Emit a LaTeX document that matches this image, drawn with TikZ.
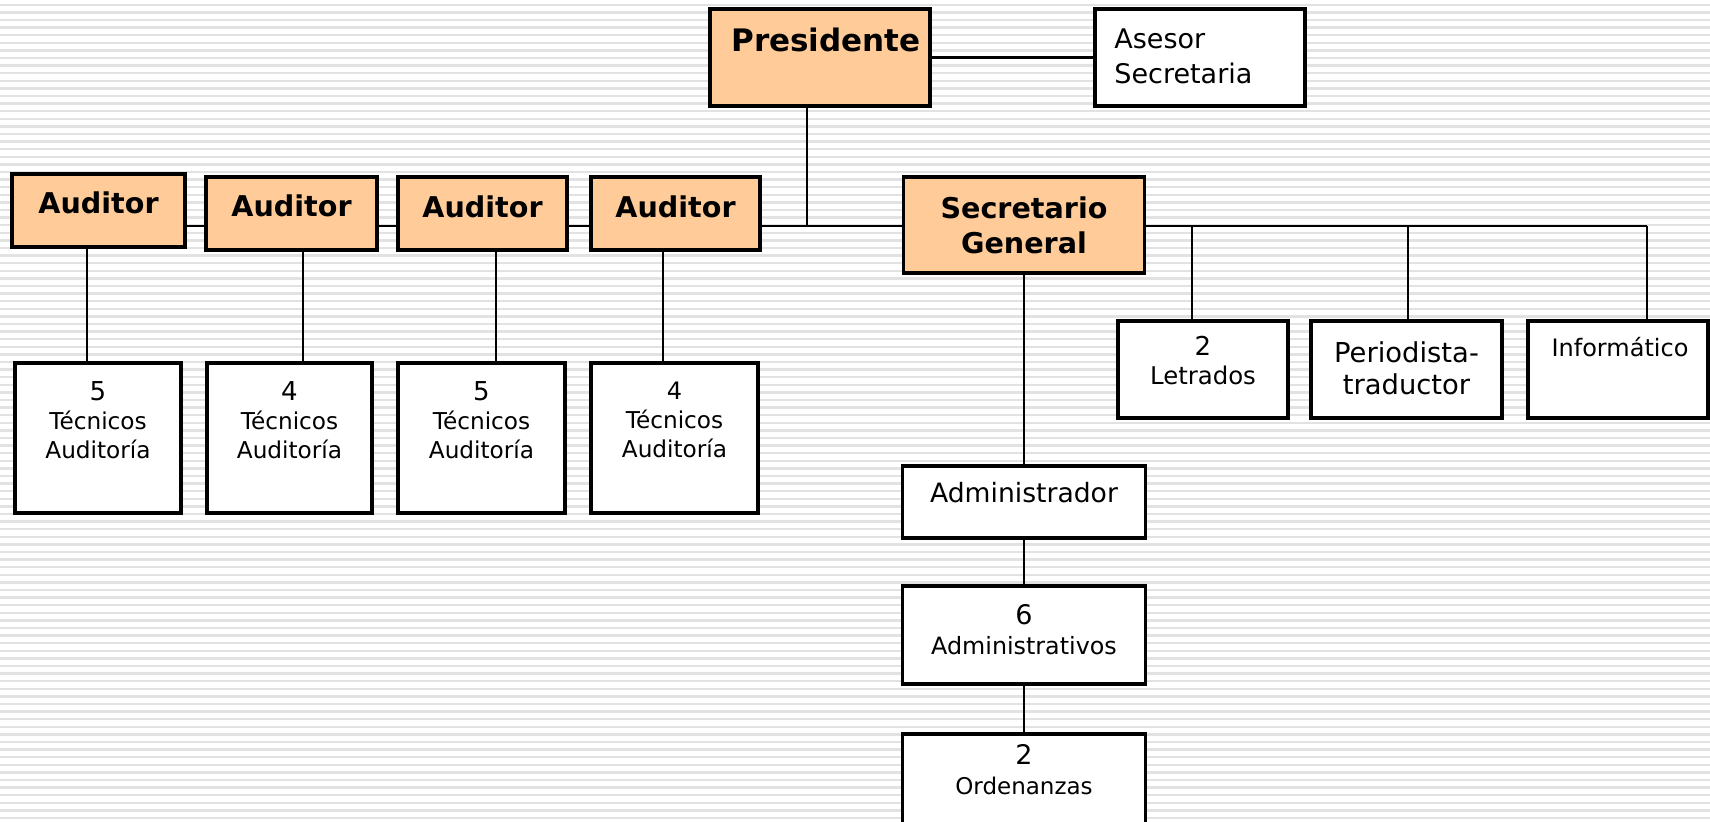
\documentclass[tikz,border=0pt]{standalone}
\usepackage{fontspec}
\setmainfont{DejaVu Sans}
\definecolor{peach}{HTML}{FFCC99}
\definecolor{stripe}{HTML}{E2E2E2}
\begin{document}
\begin{tikzpicture}[x=0.5pt,y=-0.5pt,
  box/.style={draw=black, line width=1.8pt, inner sep=0pt, rectangle},
  orgbox/.style={box, fill=peach},
  plainbox/.style={box, fill=white},
  conn/.style={draw=black, line width=1.25pt},
  lbl/.style={inner sep=0pt, align=center, text=black},
  boldlbl/.style={lbl, font=\bfseries\fontsize{14.3}{17.5}\selectfont},
  small/.style={lbl, font=\fontsize{11.6}{14.5}\selectfont}
]
\useasboundingbox (0,0) rectangle (1710,821);
\clip (0,0) rectangle (1710,821);
\fill[white] (0,0) rectangle (1710,821);
\foreach \i in {0,...,108} {
  \fill[stripe] (0,{3.5+\i*7.6}) rectangle (1710,{6+\i*7.6});
}

% boxes
\node[orgbox, minimum width=110pt, minimum height=48.5pt] (pres) at (820,57.5) {};
\node[plainbox, minimum width=105pt, minimum height=48.5pt] (ase) at (1200,57.5) {};
\node[orgbox, minimum width=86.5pt, minimum height=36.5pt] (a1) at (98.5,210.5) {};
\node[orgbox, minimum width=85.5pt, minimum height=36.5pt] (a2) at (291.5,213.5) {};
\node[orgbox, minimum width=84.5pt, minimum height=36.5pt] (a3) at (482.5,213.5) {};
\node[orgbox, minimum width=84.5pt, minimum height=36.5pt] (a4) at (675.5,213.5) {};
\node[orgbox, minimum width=120.5pt, minimum height=48pt] (sg) at (1024,225) {};
\node[plainbox, minimum width=83pt, minimum height=75pt] (t1) at (98,438) {};
\node[plainbox, minimum width=82.5pt, minimum height=75pt] (t2) at (289.5,438) {};
\node[plainbox, minimum width=83.5pt, minimum height=75pt] (t3) at (481.5,438) {};
\node[plainbox, minimum width=83.5pt, minimum height=75pt] (t4) at (674.5,438) {};
\node[plainbox, minimum width=85pt, minimum height=48.5pt] (let) at (1203,369.5) {};
\node[plainbox, minimum width=95.5pt, minimum height=48.5pt] (per) at (1406.5,369.5) {};
\node[plainbox, minimum width=90pt, minimum height=48.5pt] (inf) at (1618,369.5) {};
\node[plainbox, minimum width=121.5pt, minimum height=36pt] (adm) at (1024,502) {};
\node[plainbox, minimum width=121.5pt, minimum height=49pt] (adv) at (1024,635) {};
\node[plainbox, minimum width=121.5pt, minimum height=50pt] (ord) at (1024,784) {};

% junction coordinates
\coordinate (jp) at (807,226);
\coordinate (x1) at (87,0);
\coordinate (x2) at (303,0);
\coordinate (x3) at (496,0);
\coordinate (x4) at (663,0);
\coordinate (r1) at (1192,226);
\coordinate (r2) at (1408,226);
\coordinate (r3) at (1647,226);

% connectors
\draw[conn] (pres.east) -- (ase.west);
\draw[conn] (pres.south -| jp) -- (jp);
\draw[conn] (a1.east |- jp) -- (a2.west |- jp);
\draw[conn] (a2.east |- jp) -- (a3.west |- jp);
\draw[conn] (a3.east |- jp) -- (a4.west |- jp);
\draw[conn] (a4.east |- jp) -- (sg.west |- jp);
\draw[conn] (sg.east |- r3) -- (r3);
\draw[conn] (r1) -- (let.north -| r1);
\draw[conn] (r2) -- (per.north -| r2);
\draw[conn] (r3) -- (inf.north -| r3);
\draw[conn] (a1.south -| x1) -- (t1.north -| x1);
\draw[conn] (a2.south -| x2) -- (t2.north -| x2);
\draw[conn] (a3.south -| x3) -- (t3.north -| x3);
\draw[conn] (a4.south -| x4) -- (t4.north -| x4);
\draw[conn] (sg.south) -- (adm.north);
\draw[conn] (adm.south) -- (adv.north);
\draw[conn] (adv.south) -- (ord.north);

% labels
\node[lbl, anchor=west, font=\bfseries\fontsize{15.5}{18}\selectfont] (presT) at (731,40) {Presidente};
\node[lbl, anchor=west, align=left, font=\fontsize{13.5}{17.5}\selectfont] (aseT) at (1114,56) {Asesor\\Secretaria};
\node[boldlbl] (a1T) at (98.5,203) {Auditor};
\node[boldlbl] (a2T) at (291.5,206) {Auditor};
\node[boldlbl] (a3T) at (482.5,207) {Auditor};
\node[boldlbl] (a4T) at (675.5,207) {Auditor};
\node[boldlbl] (sgT) at (1024,225) {Secretario\\General};
\node[small] (t1T) at (98,420) {{\fontsize{13}{14.5}\selectfont 5}\\Técnicos\\Auditoría};
\node[small] (t2T) at (289.5,420) {{\fontsize{13}{14.5}\selectfont 4}\\Técnicos\\Auditoría};
\node[small] (t3T) at (481.5,420) {{\fontsize{13}{14.5}\selectfont 5}\\Técnicos\\Auditoría};
\node[small] (t4T) at (674.5,420) {{\fontsize{12}{14.5}\selectfont 4}\\Técnicos\\Auditoría};
\node[lbl, font=\fontsize{12.2}{14.5}\selectfont] (letT) at (1203,361) {{\fontsize{13}{14.5}\selectfont 2}\\Letrados};
\node[lbl, font=\fontsize{13.7}{16}\selectfont] (perT) at (1406.5,368) {Periodista-\\traductor};
\node[lbl, font=\fontsize{12}{14.5}\selectfont] (infT) at (1620,347) {Informático};
\node[lbl, font=\fontsize{13.3}{16}\selectfont] (admT) at (1024,493) {Administrador};
\node[lbl, font=\fontsize{11.9}{15}\selectfont] (advT) at (1024,630) {{\fontsize{13.5}{15}\selectfont 6}\\Administrativos};
\node[lbl, font=\fontsize{11.5}{15}\selectfont] (ordT) at (1024,770) {{\fontsize{13.5}{15}\selectfont 2}\\Ordenanzas};
\end{tikzpicture}
\end{document}
